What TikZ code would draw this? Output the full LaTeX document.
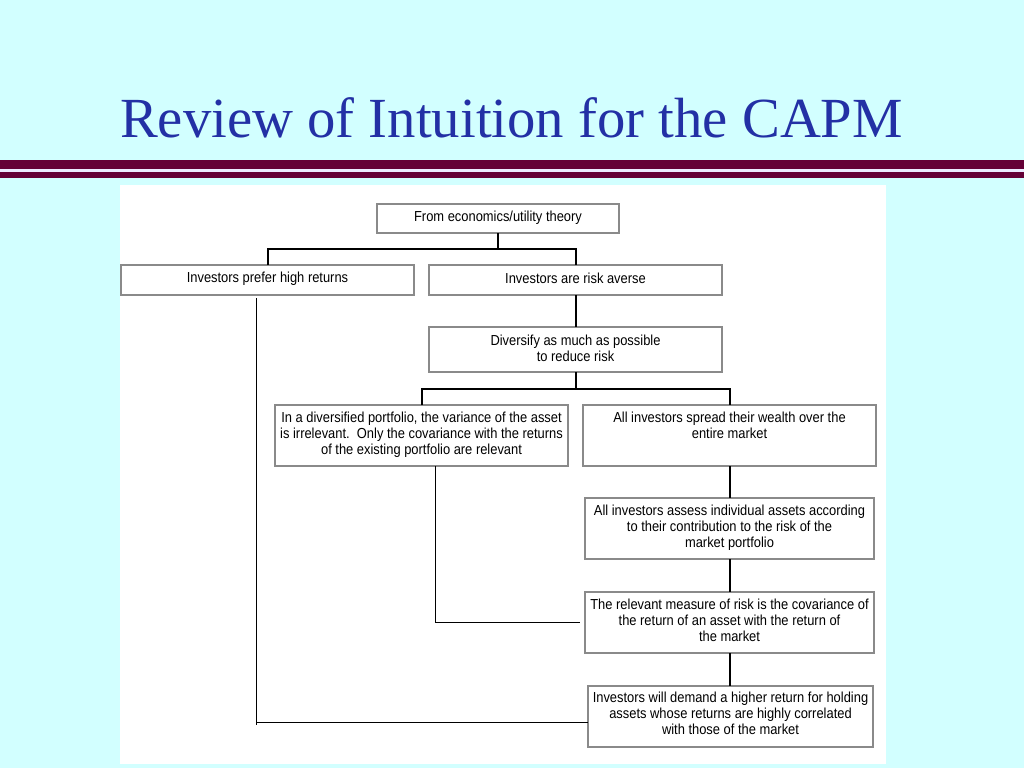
\documentclass[tikz,border=0pt]{standalone}
\usepackage{fontspec}
\setmainfont{Liberation Serif}
\newfontfamily\boxfont[FakeStretch=0.89]{Liberation Sans}
\definecolor{bgcyan}{HTML}{D2FFFF}
\definecolor{barred}{HTML}{640036}
\definecolor{gapcol}{HTML}{ECEBFF}
\definecolor{titleblue}{RGB}{35,48,165}
\definecolor{boxgray}{HTML}{8A8A8A}
\begin{document}
\begin{tikzpicture}[x=1pt,y=-1pt,
  box/.style={draw=boxgray,line width=1.6pt,fill=white,inner sep=0pt,outer sep=0pt,anchor=north west},
  txt/.style={font=\boxfont\fontsize{14.5}{16}\selectfont,align=center,inner sep=0pt,anchor=north},
  conn/.style={draw=black,line width=2pt},
  thinconn/.style={draw=black,line width=1pt}]
\useasboundingbox (0,0) rectangle (1024,768);
\fill[bgcyan] (0,0) rectangle (1024,768);
% title bars
\fill[barred] (0,160) rectangle (1024,169);
\fill[gapcol] (0,169) rectangle (1024,172);
\fill[barred] (0,172) rectangle (1024,178);
\node[font=\fontsize{56.7}{60}\selectfont,text=titleblue,anchor=base,inner sep=0pt] (title) at (511.5,137) {Review of Intuition for the CAPM};
% white panel
\fill[white] (120,185) rectangle (886,764);
% boxes
\node[box,minimum width=242,minimum height=29] (bTop) at (377,204) {};
\node[txt,anchor=center] (tTop) at ([yshift=1]bTop.center) {From economics/utility theory};
\node[box,minimum width=293,minimum height=30] (bHigh) at (121,265) {};
\node[txt,anchor=center] (tHigh) at ([yshift=1.5]bHigh.center) {Investors prefer high returns};
\node[box,minimum width=293,minimum height=30] (bAverse) at (429,265) {};
\node[txt,anchor=center] (tAverse) at ([yshift=1.5]bAverse.center) {Investors are risk averse};
\node[box,minimum width=293,minimum height=45] (bDivers) at (429,327) {};
\node[txt] (tDivers) at ([yshift=-7.5]bDivers.north) {Diversify as much as possible\\to reduce risk};
\node[box,minimum width=293,minimum height=61] (bCov) at (275,405) {};
\node[txt] (tCov) at ([yshift=-7]bCov.north) {In a diversified portfolio, the variance of the asset\\is irrelevant.\ \ Only the covariance with the returns\\of the existing portfolio are relevant};
\node[box,minimum width=293,minimum height=61] (bSpread) at (583,405) {};
\node[txt] (tSpread) at ([yshift=-7]bSpread.north) {All investors spread their wealth over the\\entire market};
\node[box,minimum width=289,minimum height=61] (bAssess) at (585,498) {};
\node[txt] (tAssess) at ([yshift=-7]bAssess.north) {All investors assess individual assets according\\to their contribution to the risk of the\\market portfolio};
\node[box,minimum width=289,minimum height=61] (bRel) at (585,592) {};
\node[txt] (tRel) at ([yshift=-7]bRel.north) {The relevant measure of risk is the covariance of\\the return of an asset with the return of\\the market};
\node[box,minimum width=285,minimum height=61] (bDemand) at (588,686) {};
\node[txt] (tDemand) at ([yshift=-6]bDemand.north) {Investors will demand a higher return for holding\\assets whose returns are highly correlated\\with those of the market};
% tree connectors
\coordinate (j1) at (498,249);
\draw[conn] (bTop.south) -- (j1);
\draw[conn] (bHigh.north) |- (j1) -| (bAverse.north);
\draw[conn] (bAverse.south) -- (bDivers.north);
\coordinate (j2) at (575.5,389);
\draw[conn] (bDivers.south) -- (j2);
\draw[conn] (bCov.north) |- (j2) -| (bSpread.north);
\draw[conn] (bSpread.south) -- (bAssess.north -| bSpread.south);
\draw[conn] (bAssess.south) -- (bRel.north);
\draw[conn] (bRel.south) -- (bDemand.north -| bRel.south);
% thin connectors
\coordinate (p1) at (256,298);
\coordinate (p2) at (256,725);
\coordinate (p3) at (256,722.5);
\draw[thinconn] (p1) -- (p2);
\draw[thinconn] (p3) -- (bDemand.west |- p3);
\coordinate (r0) at (435,466);
\coordinate (r1) at (435,623);
\coordinate (r2) at (580,622.5);
\draw[thinconn] (r0) -- (r1);
\draw[thinconn] (435,622.5) -- (r2);
\end{tikzpicture}
\end{document}
